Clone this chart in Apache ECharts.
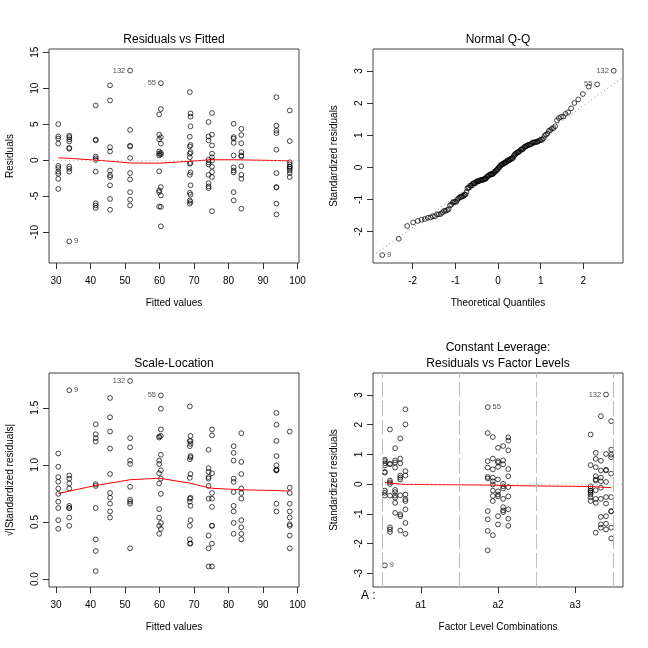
<!DOCTYPE html>
<html><head><meta charset="utf-8">
<script src="https://cdn.jsdelivr.net/npm/echarts@6/dist/echarts.min.js"></script>
<style>html,body{margin:0;padding:0;background:#fff}#c{width:648px;height:648px}</style>
</head><body><div id="c"></div>
<script>
// ---------------- data ----------------
// fitted value of each cell (group mean), sorted ascending
const groupFitted = [30.67, 33.86, 41.53, 45.68, 51.49, 59.92, 60.41, 68.8, 69.0, 74.23, 75.22, 81.5, 83.73, 93.9, 97.76];
// factor levels of each cell (B nested in A)
const groupFactorA = ['a1','a1','a1','a1','a3','a1','a2','a3','a2','a2','a2','a2','a3','a3','a3'];
const groupFactorB = [3, 1, 2, 5, 14, 4, 6, 13, 10, 9, 7, 8, 12, 15, 11];
const factorALevels = ['a1','a2','a3'];
const nLevelsB = 15;
// raw residuals of each cell
const residG01 = [5.0, 3.3, 3.0, 2.3, -0.8, -1.1, -1.6, -1.9, -2.6, -4.0];
const residG02 = [3.4, 3.2, 2.9, 2.6, 1.7, 1.6, -0.9, -1.2, -1.6, -11.3];
const residG03 = [7.6, 2.85, 2.75, 0.5, 0.25, 0.02, -1.6, -6.0, -6.3, -6.65];
const residG04 = [10.4, 8.3, 1.8, 1.2, -1.45, -2.1, -2.35, -3.5, -5.4, -6.9];
const residG05 = [12.45, 4.2, 2.0, 1.9, 0.3, -1.8, -2.7, -4.45, -5.5, -6.3];
const residG06 = [6.35, 3.55, 2.9, 1.2, 0.9, 0.65, -1.55, -4.2, -4.45, -6.45];
const residG07 = [10.7, 7.1, 3.2, 2.3, 1.0, 0.8, -3.75, -4.9, -6.5, -9.2];
const residG08 = [9.45, 3.25, 1.9, 0.9, 0.4, -0.5, -2.05, -4.55, -5.6, -6.05];
const residG09 = [6.5, 6.05, 4.7, 2.1, 1.1, -0.4, -1.7, -3.5, -4.8, -5.8];
const residG10 = [5.3, 3.3, 2.75, 0.05, -0.3, -0.6, -2.05, -3.2, -3.65, -3.9];
const residG11 = [6.55, 3.55, 2.05, 0.9, 0.4, -0.05, -0.9, -1.65, -2.35, -7.1];
const residG12 = [5.05, 3.2, 3.0, 2.4, 0.65, -1.0, -1.45, -1.7, -4.45, -5.6];
const residG13 = [4.35, 3.5, 2.35, 1.1, 0.65, 0.5, -0.85, -2.05, -2.6, -6.75];
const residG14 = [8.75, 4.8, 4.1, 3.75, 1.45, -1.8, -3.75, -3.8, -6.05, -7.55];
const residG15 = [6.9, 2.65, -0.3, -0.6, -0.9, -0.95, -1.2, -1.45, -1.8, -2.35];
const residualGroups = [residG01,residG02,residG03,residG04,residG05,residG06,residG07,residG08,
                        residG09,residG10,residG11,residG12,residG13,residG14,residG15];
// identified observations: [label, group index, index in group]
const labeledObs = [['132', 4, 0], ['55', 6, 0], ['9', 1, 9]];
// residual standard error and (constant) leverage
const residualSE = 4.36;
const leverage = 0.1;
// red smoother values
const smoothResVsFit = [0.32, 0.25, 0.0, -0.15, -0.4, -0.42, -0.42, -0.16, -0.15, 0.03, 0.05, 0.05, 0.03, -0.05, -0.12];
const smoothScaleLoc = [0.75, 0.77, 0.82, 0.84, 0.87, 0.883, 0.884, 0.84, 0.838, 0.80, 0.795, 0.785, 0.782, 0.775, 0.77];
const smoothFactorPos = [0, 1, 2, 3, 4, 20, 21, 22, 23, 24, 40, 41, 42, 43, 44];
const smoothFactor = [0.05, 0.03, 0.02, 0.0, -0.01, -0.03, -0.03, -0.04, -0.05, -0.05, -0.08, -0.09, -0.10, -0.11, -0.12];
// tick values
const fittedTicks = [30, 40, 50, 60, 70, 80, 90, 100];
const residTicks = [-10, -5, 0, 5, 10, 15];
const qqXTicks = [-2, -1, 0, 1, 2];
const qqYTicks = [-2, -1, 0, 1, 2, 3];
const slTicks = [0, 0.5, 1, 1.5];
const stdTicks = [-3, -2, -1, 0, 1, 2, 3];

// ---------------- helpers ----------------
function extendRange(lo, hi, f) { const d = (hi - lo) * f; return [lo - d, hi + d]; }
function qnorm(p) {
  const a=[-3.969683028665376e+01,2.209460984245205e+02,-2.759285104469687e+02,1.383577518672690e+02,-3.066479806614716e+01,2.506628277459239e+00];
  const b=[-5.447609879822406e+01,1.615858368580409e+02,-1.556989798598866e+02,6.680131188771972e+01,-1.328068155288572e+01];
  const c=[-7.784894002430293e-03,-3.223964580411365e-01,-2.400758277161838e+00,-2.549732539343734e+00,4.374664141464968e+00,2.938163982698783e+00];
  const d=[7.784695709041462e-03,3.224671290700398e-01,2.445134137142996e+00,3.754408661907416e+00];
  const pl = 0.02425, ph = 1 - pl; let q, r;
  if (p < pl) { q = Math.sqrt(-2*Math.log(p)); return (((((c[0]*q+c[1])*q+c[2])*q+c[3])*q+c[4])*q+c[5])/((((d[0]*q+d[1])*q+d[2])*q+d[3])*q+1); }
  if (p <= ph) { q = p - 0.5; r = q*q; return (((((a[0]*r+a[1])*r+a[2])*r+a[3])*r+a[4])*r+a[5])*q/(((((b[0]*r+b[1])*r+b[2])*r+b[3])*r+b[4])*r+1); }
  q = Math.sqrt(-2*Math.log(1-p)); return -(((((c[0]*q+c[1])*q+c[2])*q+c[3])*q+c[4])*q+c[5])/((((d[0]*q+d[1])*q+d[2])*q+d[3])*q+1);
}
function quantile7(sorted, p) { const h = (sorted.length - 1) * p; const lo = Math.floor(h); return sorted[lo] + (h - lo) * ((sorted[lo+1] ?? sorted[lo]) - sorted[lo]); }

// ---------------- derived values ----------------
const obs = [];
const stdDiv = residualSE * Math.sqrt(1 - leverage);
residualGroups.forEach((g, gi) => g.forEach((r, k) => {
  const lab = labeledObs.find(l => l[1] === gi && l[2] === k);
  obs.push({ fit: groupFitted[gi], r, std: r / stdDiv,
    pos: factorALevels.indexOf(groupFactorA[gi]) * nLevelsB + (groupFactorB[gi] - 1),
    id: lab ? lab[0] : null });
}));
const n = obs.length;
const fitMin = Math.min(...groupFitted), fitMax = Math.max(...groupFitted);
const rMin = Math.min(...obs.map(o => o.r)), rMax = Math.max(...obs.map(o => o.r));
const sMin = Math.min(...obs.map(o => o.std)), sMax = Math.max(...obs.map(o => o.std));
const xFit = extendRange(fitMin, fitMax, 0.04);
const yRes = extendRange(...extendRange(rMin, rMax, 0.08), 0.04);
const sortedObs = obs.slice().sort((a, b) => a.std - b.std);
const theo = sortedObs.map((o, i) => qnorm((i + 0.5) / n));
const xQQ = extendRange(theo[0], theo[n-1], 0.04);
const yQQ = extendRange(sMin, sMax + 0.075 * (sMax - sMin), 0.04);
const sqAbs = obs.map(o => Math.sqrt(Math.abs(o.std)));
const ySL = extendRange(0, Math.max(...sqAbs), 0.04);
const xFac = extendRange(-0.5, factorALevels.length * nLevelsB - 0.5, 0.04);
const yFac = extendRange(...extendRange(sMin, sMax, 0.08), 0.04);
const sortedStd = sortedObs.map(o => o.std);
const qy = [quantile7(sortedStd, 0.25), quantile7(sortedStd, 0.75)];
const qx = [qnorm(0.25), qnorm(0.75)];
const qSlope = (qy[1] - qy[0]) / (qx[1] - qx[0]);
const qInt = qy[0] - qSlope * qx[0];
const facTicks = factorALevels.map((l, k) => nLevelsB * (k + 0.5) - 0.5);
const facBounds = factorALevels.map((l, k) => nLevelsB * k - 0.5).concat([factorALevels.length * nLevelsB - 0.5]);

// ---------------- styles ----------------
const FF = "'Liberation Sans', Arial, Helvetica, sans-serif";
const grids = [
  { left: 49, top: 49, width: 250, height: 214 },
  { left: 373, top: 49, width: 250, height: 214 },
  { left: 49, top: 373, width: 250, height: 214 },
  { left: 373, top: 373, width: 250, height: 214 }
].map(g => Object.assign(g, { show: true, borderColor: '#444', borderWidth: 1, backgroundColor: 'transparent', containLabel: false }));

function xAxisCfg(gi, range, ticks, name, fmt) {
  return { type: 'value', gridIndex: gi, position: 'bottom', min: range[0], max: range[1], name, nameLocation: 'middle', nameGap: 35,
    nameTextStyle: { fontSize: 10, color: '#000', fontFamily: FF },
    axisLine: { show: false, onZero: false }, splitLine: { show: false },
    axisTick: { show: true, inside: false, length: 6, customValues: ticks, lineStyle: { color: '#333', width: 1 } },
    axisLabel: { customValues: ticks, margin: 13, fontSize: 10, color: '#000', fontFamily: FF, formatter: fmt || (v => String(v)) } };
}
function yAxisCfg(gi, range, ticks, name, fmt) {
  return { type: 'value', gridIndex: gi, position: 'left', min: range[0], max: range[1], name, nameLocation: 'middle', nameGap: 34, nameRotate: 90,
    nameTextStyle: { fontSize: 10, color: '#000', fontFamily: FF },
    axisLine: { show: false, onZero: false }, splitLine: { show: false },
    axisTick: { show: true, inside: false, length: 6, customValues: ticks, lineStyle: { color: '#333', width: 1 } },
    axisLabel: { customValues: ticks, margin: 9, rotate: 90, fontSize: 10, color: '#000', fontFamily: FF, formatter: fmt || (v => String(v)) } };
}
const ptStyle = { color: 'rgba(0,0,0,0)', borderColor: '#000', borderWidth: 0.9 };
function pointData(list, sideFor) {
  return list.map(p => {
    const d = { value: [p[0], p[1]] };
    if (p[2]) d.label = { show: true, formatter: p[2], position: sideFor(p[2]), distance: 2, fontSize: 7.5, color: '#223', fontFamily: FF };
    return d;
  });
}
function scatter(gi, data) {
  return { type: 'scatter', xAxisIndex: gi, yAxisIndex: gi, symbol: 'circle', symbolSize: 4.8, itemStyle: ptStyle, data, silent: true, z: 3 };
}
function redLine(gi, data) {
  return { type: 'line', xAxisIndex: gi, yAxisIndex: gi, data, symbol: 'none', lineStyle: { color: '#ff0000', width: 1 }, silent: true, z: 4 };
}
const leftExcept9 = id => id === '9' ? 'right' : 'left';

const option = {
  animation: false,
  backgroundColor: '#fff',
  textStyle: { fontFamily: FF },
  grid: grids,
  xAxis: [
    xAxisCfg(0, xFit, fittedTicks, 'Fitted values'),
    xAxisCfg(1, xQQ, qqXTicks, 'Theoretical Quantiles'),
    xAxisCfg(2, xFit, fittedTicks, 'Fitted values'),
    xAxisCfg(3, xFac, facTicks, 'Factor Level Combinations', v => factorALevels[Math.round((v + 0.5) / nLevelsB - 0.5)])
  ],
  yAxis: [
    yAxisCfg(0, yRes, residTicks, 'Residuals'),
    yAxisCfg(1, yQQ, qqYTicks, 'Standardized residuals'),
    yAxisCfg(2, ySL, slTicks, '\u221A|Standardized residuals|', v => v.toFixed(1)),
    yAxisCfg(3, yFac, stdTicks, 'Standardized residuals')
  ],
  series: [
    // Residuals vs Fitted
    Object.assign(scatter(0, pointData(obs.map(o => [o.fit, o.r, o.id]), leftExcept9)), {
      markLine: { silent: true, symbol: 'none', label: { show: false }, lineStyle: { color: '#bebebe', type: [1, 3], width: 1 }, data: [{ yAxis: 0 }] } }),
    redLine(0, groupFitted.map((f, i) => [f, smoothResVsFit[i]])),
    // Normal Q-Q
    scatter(1, pointData(sortedObs.map((o, i) => [theo[i], o.std, o.id]), leftExcept9)),
    { type: 'line', xAxisIndex: 1, yAxisIndex: 1, symbol: 'none', silent: true, clip: true, z: 2,
      lineStyle: { color: '#7f7f7f', type: [1, 3], width: 1 },
      data: [[xQQ[0], qInt + qSlope * xQQ[0]], [xQQ[1], qInt + qSlope * xQQ[1]]] },
    // Scale-Location
    scatter(2, pointData(obs.map((o, i) => [o.fit, sqAbs[i], o.id]), leftExcept9)),
    redLine(2, groupFitted.map((f, i) => [f, smoothScaleLoc[i]])),
    // Residuals vs factor levels
    Object.assign(scatter(3, pointData(obs.map(o => [o.pos, o.std, o.id]), id => id === '132' ? 'left' : 'right')), {
      markLine: { silent: true, symbol: 'none', label: { show: false }, data: [
        { yAxis: 0, lineStyle: { color: '#bebebe', type: [1, 3], width: 1 } },
        ...facBounds.map(b => ({ xAxis: b, lineStyle: { color: '#bebebe', type: [15, 4], width: 1 } }))
      ] } }),
    redLine(3, smoothFactorPos.map((p, i) => [p, smoothFactor[i]]))
  ],
  graphic: [
    { type: 'text', x: 174, y: 40, style: { text: 'Residuals vs Fitted', fontSize: 12, fontFamily: FF, fill: '#000', align: 'center', verticalAlign: 'middle', textAlign: 'center', textVerticalAlign: 'middle' } },
    { type: 'text', x: 498, y: 40, style: { text: 'Normal Q-Q', fontSize: 12, fontFamily: FF, fill: '#000', align: 'center', verticalAlign: 'middle', textAlign: 'center', textVerticalAlign: 'middle' } },
    { type: 'text', x: 174, y: 364, style: { text: 'Scale-Location', fontSize: 12, fontFamily: FF, fill: '#000', align: 'center', verticalAlign: 'middle', textAlign: 'center', textVerticalAlign: 'middle' } },
    { type: 'text', x: 498, y: 348, style: { text: 'Constant Leverage:', fontSize: 12, fontFamily: FF, fill: '#000', align: 'center', verticalAlign: 'middle', textAlign: 'center', textVerticalAlign: 'middle' } },
    { type: 'text', x: 498, y: 364, style: { text: 'Residuals vs Factor Levels', fontSize: 12, fontFamily: FF, fill: '#000', align: 'center', verticalAlign: 'middle', textAlign: 'center', textVerticalAlign: 'middle' } },
    { type: 'text', x: 361, y: 596, style: { text: 'A :', fontSize: 12, fontFamily: FF, fill: '#000', align: 'left', verticalAlign: 'middle', textAlign: 'left', textVerticalAlign: 'middle' } }
  ]
};
const chart = echarts.init(document.getElementById('c'), null, { renderer: 'canvas', width: 648, height: 648 });
chart.setOption(option);
</script></body></html>
